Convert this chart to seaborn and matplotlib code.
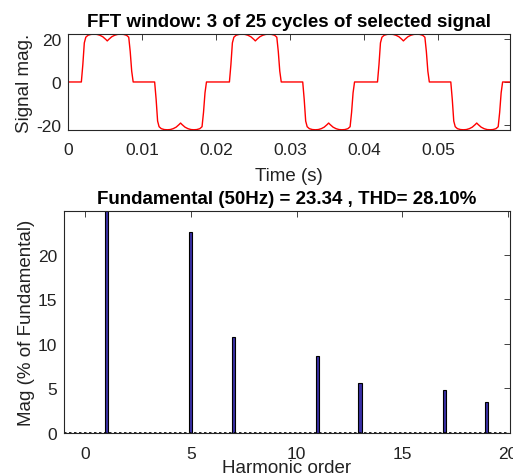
import numpy as np
import pandas as pd
import matplotlib
matplotlib.use("Agg")
import matplotlib.pyplot as plt
import seaborn as sns

# one cycle of the signal (time in s, magnitude)
cycle_t = [0.0, 0.0018, 0.0020, 0.0022, 0.0024, 0.0027, 0.0031, 0.0035, 0.0039,
           0.0043, 0.0047, 0.0051, 0.0053, 0.0055, 0.0059, 0.0063, 0.0067,
           0.0071, 0.0075, 0.0079, 0.0082, 0.0084, 0.0086, 0.0088,
           0.0117, 0.0119, 0.0121, 0.0123, 0.0126, 0.0130, 0.0134, 0.0138,
           0.0142, 0.0146, 0.0150, 0.0152, 0.0154, 0.0158, 0.0162, 0.0166,
           0.0170, 0.0174, 0.0178, 0.0181, 0.0183, 0.0185, 0.0187]
cycle_v = [0, 0, 8, 18, 20.6, 21.5, 21.9, 22.0, 21.9,
           21.5, 20.8, 19.6, 18.9, 19.6, 20.8, 21.5, 21.9,
           22.0, 21.9, 21.5, 20.6, 14, 5, 0,
           0, -8, -18, -20.6, -21.5, -21.9, -22.0, -21.9,
           -21.5, -20.8, -19.6, -18.9, -19.6, -20.8, -21.5, -21.9,
           -22.0, -21.9, -21.5, -20.6, -14, -5, 0]
cycle_starts = [0.0, 0.02, 0.04]
t_end = 0.0597

# harmonic spectrum (% of fundamental)
harm_order = list(range(0, 21))
harm_mag = [0, 100, 0, 0, 0, 22.6, 0, 10.8, 0, 0, 0, 8.6, 0, 5.6, 0, 0, 0, 4.85, 0, 3.45, 0]

title_top = "FFT window: 3 of 25 cycles of selected signal"
title_bot = "Fundamental (50Hz) = 23.34 , THD= 28.10%"

sns.set_style("white")
plt.rcParams["font.family"] = ["Liberation Sans", "DejaVu Sans"]
plt.rcParams["axes.unicode_minus"] = False
txt = "#222222"

sig_t = []
sig_v = []
for s in cycle_starts:
    sig_t += [s + x for x in cycle_t]
    sig_v += cycle_v
sig_t.append(t_end)
sig_v.append(0)
sig = pd.DataFrame({"t": sig_t, "v": sig_v})

fig = plt.figure(figsize=(5.13, 4.77), dpi=100)
ax1 = fig.add_axes([0.1326, 0.7254, 0.8616, 0.2013])
ax2 = fig.add_axes([0.1248, 0.0901, 0.8694, 0.4654])

sns.lineplot(data=sig, x="t", y="v", ax=ax1, color="red", linewidth=1, sort=False)
ax1.set_xlim(0, t_end)
ax1.set_ylim(-22.1, 22.1)
ax1.set_xticks([0, 0.01, 0.02, 0.03, 0.04, 0.05])
ax1.set_xticklabels(["0", "0.01", "0.02", "0.03", "0.04", "0.05"])
ax1.set_yticks([-20, 0, 20])
ax1.set_xlabel("Time (s)", fontsize=13.5, color=txt, labelpad=7)
ax1.set_ylabel("Signal mag.", fontsize=13.5, color=txt, labelpad=2)
ax1.set_title(title_top, fontsize=13.5, fontweight="bold", color="black", pad=6)

df = pd.DataFrame({"h": harm_order, "m": harm_mag})
sns.barplot(data=df, x="h", y="m", ax=ax2, native_scale=True, orient="x",
            width=0.15, color="#3a30a6", saturation=1, edgecolor="black",
            linewidth=0.8, errorbar=None)
ax2.plot([-1, 20], [0, 0], color="black", linestyle=(0, (1.5, 1.5)), linewidth=1.2)
ax2.set_xlim(-1, 20.1)
ax2.set_ylim(0, 24.9)
ax2.set_xticks([0, 5, 10, 15, 20])
ax2.set_xticklabels(["0", "5", "10", "15", "20"])
ax2.set_yticks([0, 5, 10, 15, 20])
ax2.set_xlabel("Harmonic order", fontsize=13.5, color=txt, labelpad=-1)
ax2.set_ylabel("Mag (% of Fundamental)", fontsize=13.5, color=txt, labelpad=2)
ax2.set_title(title_bot, fontsize=13.5, fontweight="bold", color="black", pad=6)

for ax in (ax1, ax2):
    ax.tick_params(direction="in", top=True, right=True, length=4, width=0.6,
                   labelsize=12.5, colors=txt)
    ax.tick_params(axis="x", pad=9)
    ax.tick_params(axis="y", pad=5)
    for sp in ax.spines.values():
        sp.set_color("#262626")
        sp.set_linewidth(0.8)

fig.savefig("out.png", dpi=100)
